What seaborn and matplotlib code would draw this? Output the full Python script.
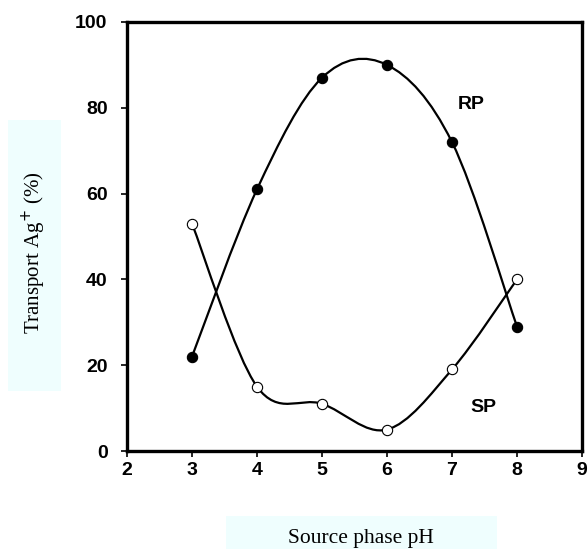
import numpy as np
import pandas as pd
import matplotlib
matplotlib.use("Agg")
import matplotlib.pyplot as plt
import seaborn as sns
from matplotlib.path import Path
from matplotlib.patches import PathPatch, Rectangle

ph = [3, 4, 5, 6, 7, 8]
rp = [22, 61, 87, 90, 72, 29]
sp = [53, 15, 11, 5, 19, 40]
xticks = [2, 3, 4, 5, 6, 7, 8, 9]
yticks = [0, 20, 40, 60, 80, 100]

sns.set_theme(style="white")
plt.rcParams["font.family"] = ["Liberation Sans", "DejaVu Sans"]
plt.rcParams["text.color"] = "black"
plt.rcParams["xtick.color"] = "black"
plt.rcParams["ytick.color"] = "black"

fig = plt.figure(figsize=(5.88, 5.49), dpi=100)
ax = fig.add_axes([127/588, 1-451/549, (582-127)/588, (451-22)/549])

# light label backgrounds
fig.patches.append(Rectangle((8/588, 1-391/549), 53/588, 271/549,
                             transform=fig.transFigure, facecolor="#effefe",
                             edgecolor="none", zorder=0))
fig.patches.append(Rectangle((226/588, 0), 271/588, 33/549,
                             transform=fig.transFigure, facecolor="#effefe",
                             edgecolor="none", zorder=0))


def smooth_path(xs, ys):
    pts = np.column_stack([xs, ys]).astype(float)
    n = len(pts)
    verts = [pts[0]]
    codes = [Path.MOVETO]
    for i in range(n - 1):
        p0 = pts[i - 1] if i > 0 else pts[i]
        p1 = pts[i]
        p2 = pts[i + 1]
        p3 = pts[i + 2] if i + 2 < n else pts[i + 1]
        c1 = p1 + (p2 - p0) / 6
        c2 = p2 - (p3 - p1) / 6
        verts += [c1, c2, p2]
        codes += [Path.CURVE4] * 3
    return Path(verts, codes)


for ys in (rp, sp):
    ax.add_patch(PathPatch(smooth_path(ph, ys), facecolor="none",
                           edgecolor="black", lw=1.6, zorder=2))

df = pd.DataFrame({"pH": ph, "RP": rp, "SP": sp})
sns.scatterplot(data=df, x="pH", y="RP", ax=ax, color="black", edgecolor="black",
                s=55, linewidth=0.8, zorder=3)
sns.scatterplot(data=df, x="pH", y="SP", ax=ax, color="white", edgecolor="black",
                s=55, linewidth=0.8, zorder=3)

ax.set_xlim(2, 9)
ax.set_ylim(0, 100)
ax.set_xticks(xticks)
ax.set_yticks(yticks)
ax.set_xticklabels([str(t) for t in xticks], fontsize=14, fontweight="bold", color="black")
ax.set_yticklabels([str(t) for t in yticks], fontsize=14, fontweight="bold", color="black")
ax.tick_params(axis="both", direction="out", length=4, width=1.2, color="black",
               bottom=True, left=True)
ax.tick_params(axis="x", pad=4)
ax.tick_params(axis="y", pad=10)
for s in ax.spines.values():
    s.set_visible(True)
    s.set_color("black")
    s.set_linewidth(2.4)
ax.set_facecolor("white")
ax.patch.set_alpha(0)

ax.set_xlabel("")
ax.set_ylabel("")
fig.text(361/588, 1-539/549, "Source phase pH", family="Liberation Serif",
         fontsize=15.5, ha="center", va="center", color="black")
fig.text(34/588, 1-253/549, "Transport Ag$^{+}$ (%)", family="Liberation Serif",
         fontsize=15, ha="center", va="center", rotation=90, color="black")

ax.text(7.29, 80.8, "RP", fontsize=14, fontweight="bold", ha="center", va="center")
ax.text(7.49, 10.2, "SP", fontsize=14, fontweight="bold", ha="center", va="center")

fig.savefig("out.png", dpi=100, facecolor="white")
